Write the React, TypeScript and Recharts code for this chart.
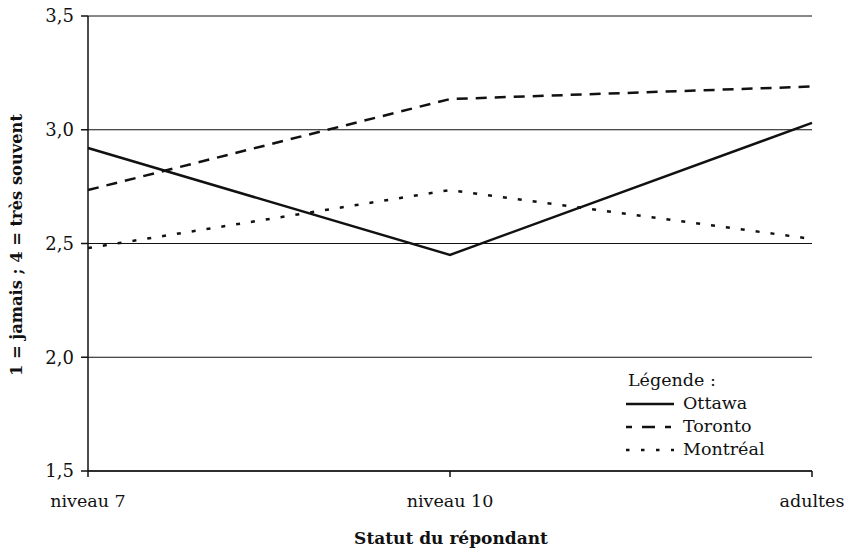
import { LineChart, Line, XAxis, YAxis, CartesianGrid } from "recharts";

const categories = ["niveau 7", "niveau 10", "adultes"];
const ottawa = [2.92, 2.45, 3.03];
const toronto = [2.735, 3.135, 3.19];
const montreal = [2.48, 2.735, 2.52];
const yTicks = [1.5, 2.0, 2.5, 3.0, 3.5];

const series = [
  { key: "ottawa", name: "Ottawa", dash: undefined as string | undefined },
  { key: "toronto", name: "Toronto", dash: "11 8" },
  { key: "montreal", name: "Montréal", dash: "4 11" },
];

const data = categories.map((c, i) => ({
  cat: c,
  ottawa: ottawa[i],
  toronto: toronto[i],
  montreal: montreal[i],
}));

const FONT = "'DejaVu Serif', 'Liberation Serif', serif";
const INK = "#111";

const legendDash: Record<string, string | undefined> = {
  ottawa: undefined,
  toronto: "6 10 13 10 6",
  montreal: "3.5 11.5",
};

function LegendBox() {
  return (
    <div
      style={{
        position: "absolute",
        left: 626,
        top: 369,
        fontFamily: FONT,
        fontSize: 17.5,
        color: INK,
        lineHeight: "23px",
      }}
    >
      <div style={{ marginLeft: 2 }}>Légende :</div>
      {series.map((s) => (
        <div key={s.key} style={{ display: "flex", alignItems: "center" }}>
          <svg width={57} height={23}>
            <line
              x1={0}
              x2={48}
              y1={12}
              y2={12}
              stroke={INK}
              strokeWidth={2.5}
              strokeDasharray={legendDash[s.key]}
            />
          </svg>
          <span>{s.name}</span>
        </div>
      ))}
    </div>
  );
}

export default function App() {
  return (
    <div style={{ position: "relative", width: 853, height: 555, background: "#fff" }}>
      <style>{"body{margin:0}"}</style>
      <LineChart
        width={853}
        height={555}
        data={data}
        margin={{ top: 16, right: 41, left: 0, bottom: 44 }}
      >
        <CartesianGrid vertical={false} stroke={INK} strokeWidth={1} />
        <XAxis
          dataKey="cat"
          axisLine={{ stroke: INK, strokeWidth: 1.5 }}
          tickLine={{ stroke: INK, strokeWidth: 1.5 }}
          tickSize={6}
          tickMargin={18}
          height={40}
          tick={{ fill: INK, fontSize: 17.5, fontFamily: FONT }}
          interval={0}
          label={{
            content: () => (
              <text
                x={451}
                y={538}
                textAnchor="middle"
                dominantBaseline="central"
                fontFamily={FONT}
                fontWeight="bold"
                fontSize={17}
                fill={INK}
              >
                Statut du répondant
              </text>
            ),
          }}
        />
        <YAxis
          width={88}
          domain={[1.5, 3.5]}
          ticks={yTicks}
          interval={0}
          axisLine={{ stroke: INK, strokeWidth: 1.5 }}
          tickLine={{ stroke: INK, strokeWidth: 1.5 }}
          tickSize={7}
          tickMargin={7}
          tickFormatter={(v: number) => v.toFixed(1).replace(".", ",")}
          tick={{ fill: INK, fontSize: 18, fontFamily: FONT }}
          label={{
            content: () => (
              <text
                x={16}
                y={245}
                transform="rotate(-90 16 245)"
                textAnchor="middle"
                dominantBaseline="central"
                fontFamily={FONT}
                fontWeight="bold"
                fontSize={16.3}
                fill={INK}
              >
                1 = jamais ; 4 = très souvent
              </text>
            ),
          }}
        />
        {series.map((s) => (
          <Line
            key={s.key}
            dataKey={s.key}
            name={s.name}
            stroke={INK}
            strokeWidth={2.5}
            strokeDasharray={s.dash}
            dot={false}
            activeDot={false}
            type="linear"
            isAnimationActive={false}
          />
        ))}
      </LineChart>
      <LegendBox />
    </div>
  );
}
